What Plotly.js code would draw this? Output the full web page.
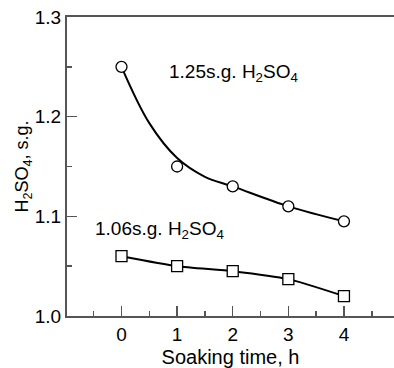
<!DOCTYPE html>
<html>
<head>
<meta charset="utf-8">
<script src="https://cdn.plot.ly/plotly-3.0.1.min.js"></script>
<style>html,body{margin:0;padding:0;background:#fff;}#chart{width:394px;height:368px;}</style>
</head>
<body>
<div id="chart"></div>
<script>
// Data
const hours = [0, 1, 2, 3, 4];
const sg125 = [1.250, 1.150, 1.130, 1.110, 1.095];
const sg106 = [1.060, 1.050, 1.045, 1.037, 1.020];
// Fitted curve through the 1.25 s.g. series
const fitHours = [0, 0.5, 1, 1.5, 2, 3, 4];
const fit125 = [1.250, 1.1935, 1.1585, 1.1397, 1.130, 1.110, 1.095];
const xTicks = [0, 1, 2, 3, 4];
const yTicks = [1.0, 1.1, 1.2, 1.3];
const label125 = '1.25s.g. H<sub>2</sub>SO<sub>4</sub>';
const label106 = '1.06s.g. H<sub>2</sub>SO<sub>4</sub>';

const fam = 'Liberation Sans, Arial, sans-serif';
const font = {family: fam, size: 18, color: '#000'};

const traces = [
  {x: fitHours, y: fit125, mode: 'lines', line: {color: '#000', width: 2, shape: 'spline', smoothing: 1}, hoverinfo: 'skip'},
  {x: hours, y: sg125, mode: 'markers', marker: {symbol: 'circle', size: 11, color: '#fff', line: {color: '#000', width: 1.3}}},
  {x: hours, y: sg106, mode: 'lines+markers', line: {color: '#000', width: 2, shape: 'spline', smoothing: 0.6},
   marker: {symbol: 'square', size: 11, color: '#fff', line: {color: '#000', width: 1.3}}}
];

const layout = {
  width: 394, height: 368,
  margin: {l: 67, r: 0, t: 17, b: 52},
  paper_bgcolor: '#fff', plot_bgcolor: '#fff',
  showlegend: false,
  font: font,
  xaxis: {
    range: [-0.98, 4.9], tickvals: xTicks, ticktext: xTicks.map(String),
    ticks: 'inside', ticklen: 10, tickwidth: 1.5, tickcolor: '#555',
    minor: {dtick: 0.5, tick0: 0, ticks: 'inside', ticklen: 5, tickwidth: 1.5, tickcolor: '#555'},
    showline: true, linecolor: '#555', linewidth: 2, mirror: true,
    showgrid: false, zeroline: false,
    tickfont: {family: fam, size: 19, color: '#000'},
    title: {text: 'Soaking time, h', font: {family: fam, size: 20, color: '#000'}, standoff: 6}
  },
  yaxis: {
    range: [1.0, 1.3], tickvals: yTicks, ticktext: yTicks.map(v => v.toFixed(1)),
    ticks: 'inside', ticklen: 10, tickwidth: 1.5, tickcolor: '#555',
    minor: {dtick: 0.05, tick0: 1.0, ticks: 'inside', ticklen: 5, tickwidth: 1.5, tickcolor: '#555'},
    showline: true, linecolor: '#555', linewidth: 2,
    showgrid: false, zeroline: false,
    tickfont: {family: fam, size: 19, color: '#000'},
    title: {text: 'H<sub>2</sub>SO<sub>4</sub>, s.g.', font: {family: fam, size: 18, color: '#000'}, standoff: 1}
  },
  annotations: [
    {x: 0.81, y: 1.244, xref: 'x', yref: 'y', text: label125, showarrow: false, xanchor: 'left', yanchor: 'middle', font: {family: fam, size: 19, color: '#000'}},
    {x: -0.52, y: 1.086, xref: 'x', yref: 'y', text: label106, showarrow: false, xanchor: 'left', yanchor: 'middle', font: {family: fam, size: 19, color: '#000'}}
  ]
};

Plotly.newPlot('chart', traces, layout, {displayModeBar: false, staticPlot: true});
</script>
</body>
</html>
